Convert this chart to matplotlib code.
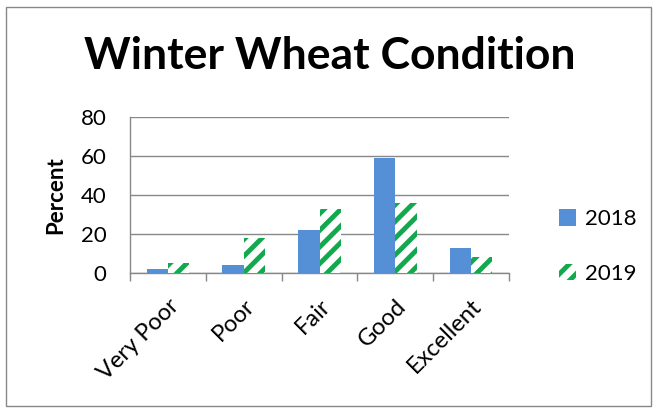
import numpy as np
import matplotlib
matplotlib.use("Agg")
import matplotlib.pyplot as plt
from matplotlib.patches import Rectangle

plt.rcParams['font.family'] = ['Lato', 'DejaVu Sans']
plt.rcParams['hatch.linewidth'] = 3.5

categories = ["Very Poor", "Poor", "Fair", "Good", "Excellent"]
years = ["2018", "2019"]
vals_2018 = [2, 4, 22, 59, 13]
vals_2019 = [5, 18, 33, 36, 8]

blue = "#5590D6"
green = "#12A84E"
grid_gray = "#888888"

fig = plt.figure(figsize=(6.61, 4.13), dpi=100)
ax = fig.add_axes([130 / 661, 1 - 273 / 413, 379 / 661, 156 / 413])

x = np.arange(len(categories))
w = 0.28
ax.bar(x - w / 2, vals_2018, w, color=blue, label=years[0], zorder=3)
ax.bar(x + w / 2, vals_2019, w, color="white", edgecolor=green, hatch="//",
       linewidth=0, label=years[1], zorder=3)

ax.set_xlim(-0.5, len(categories) - 0.5)
ax.set_ylim(0, 80)
ax.set_yticks([0, 20, 40, 60, 80])
ax.yaxis.grid(True, color=grid_gray, linewidth=1, zorder=0)
ax.tick_params(axis='y', length=0, labelsize=16, pad=17)

# category labels at centres, tick marks at boundaries
ax.set_xticks(x)
ax.set_xticklabels(categories, rotation=45, ha='right', rotation_mode='anchor',
                   fontsize=17)
ax.tick_params(axis='x', which='major', length=0, pad=16)
ax.set_xticks(np.arange(len(categories) + 1) - 0.5, minor=True)
ax.tick_params(axis='x', which='minor', length=6, color=grid_gray, width=1)

for s in ['top', 'right']:
    ax.spines[s].set_visible(False)
for s in ['left', 'bottom']:
    ax.spines[s].set_color(grid_gray)
    ax.spines[s].set_linewidth(1)

ax.set_ylabel("Percent", fontsize=16, fontweight='bold', labelpad=10)

fig.text(330 / 661, 1 - 56 / 413, "Winter Wheat Condition", fontsize=32,
         fontweight='bold', ha='center', va='center')

leg = ax.legend(loc='center left', bbox_to_anchor=(1.08, 0.17), frameon=False,
                fontsize=16, handlelength=0.75, handleheight=0.75,
                labelspacing=1.55, handletextpad=0.4)

fig.patches.append(Rectangle((6 / 661, 1 - 406 / 413), 645 / 661, 399 / 413,
                             transform=fig.transFigure, fill=False,
                             edgecolor=grid_gray, linewidth=1))

fig.savefig("out.png", dpi=100)
